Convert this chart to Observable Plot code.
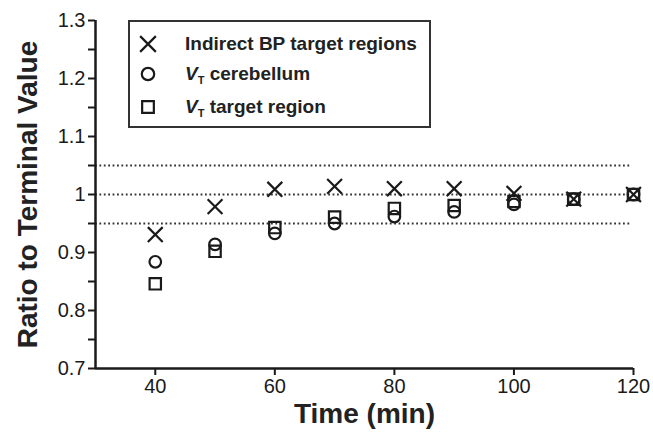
<!DOCTYPE html>
<html>
<head>
<meta charset="utf-8">
<script src="https://cdn.jsdelivr.net/npm/d3@7"></script>
<script src="https://cdn.jsdelivr.net/npm/@observablehq/plot@0.6"></script>
<style>
  body { margin: 0; background: #fff; }
  #wrap { position: relative; width: 653px; height: 436px; font-family: "Liberation Sans", Arial, sans-serif; }
  #wrap svg { font-family: "Liberation Sans", Arial, sans-serif; }
  #wrap svg [aria-label="y-axis label"] text,
  #wrap svg [aria-label="x-axis label"] text { font-size: 28px; font-weight: bold; fill: #222; }
  #legend { position: absolute; left: 128px; top: 20px; width: 299px; height: 104px; border: 2px solid #333; background: #fff; }
  .item { position: absolute; left: 0; height: 24px; display: flex; align-items: center; font-weight: bold; font-size: 19px; color: #222; }
  .item svg { position: absolute; left: 5px; }
  .item span { position: absolute; left: 55px; white-space: nowrap; }
  .item sub { font-size: 11px; vertical-align: -4px; }
</style>
</head>
<body>
<div id="wrap"></div>
<script>
const times = [40, 50, 60, 70, 80, 90, 100, 110, 120];
const bpIndirect = [0.931, 0.979, 1.009, 1.014, 1.010, 1.010, 1.002, 0.992, 1.000];
const vtCerebellum = [0.884, 0.914, 0.933, 0.950, 0.962, 0.970, 0.983, 0.992, 1.000];
const vtTarget = [0.846, 0.902, 0.943, 0.961, 0.976, 0.981, 0.988, 0.992, 1.000];
const refLines = [0.95, 1, 1.05];
const yMajor = [0.7, 0.8, 0.9, 1.0, 1.1, 1.2, 1.3];
const yMinor = [0.75, 0.85, 0.95, 1.05, 1.15, 1.25];
const xTicks = [40, 60, 80, 100, 120];

const ink = "#1a1a1a";
const rows = (vals) => times.map((t, i) => ({t, v: vals[i]}));

const chart = Plot.plot({
  width: 653,
  height: 436,
  marginLeft: 95,
  marginRight: 20,
  marginTop: 20,
  marginBottom: 68,
  x: {domain: [30, 120]},
  y: {domain: [0.7, 1.3]},
  marks: [
    Plot.ruleY(refLines, {x1: 30, x2: 119.4, stroke: "#333", strokeWidth: 1.8, strokeDasharray: "1.8,2.6"}),
    Plot.axisY(yMinor, {tickSize: 7, text: null, stroke: ink, strokeWidth: 2, label: null}),
    Plot.axisY(yMajor, {tickSize: 7, tickPadding: 3, fontSize: 20, fill: ink, stroke: ink, strokeWidth: 2,
      tickFormat: d => d === 1 ? "1" : d.toFixed(1),
      label: "Ratio to Terminal Value", labelAnchor: "center", labelArrow: "none", labelOffset: 78}),
    Plot.axisX(xTicks, {tickSize: 7, tickPadding: 3, fontSize: 20, fill: ink, stroke: ink, strokeWidth: 2,
      label: "Time (min)", labelAnchor: "center", labelArrow: "none", labelOffset: 54}),
    Plot.ruleX([30], {stroke: ink, strokeWidth: 2.5}),
    Plot.ruleY([0.7], {stroke: ink, strokeWidth: 2.5}),
    Plot.dot(rows(vtTarget), {x: "t", y: "v", symbol: "square", r: 6.4, stroke: ink, strokeWidth: 2.2, fill: "none"}),
    Plot.dot(rows(vtCerebellum), {x: "t", y: "v", symbol: "circle", r: 5.8, stroke: ink, strokeWidth: 2.2, fill: "none"}),
    Plot.dot(rows(bpIndirect), {x: "t", y: "v", symbol: "times", r: 6.8, stroke: ink, strokeWidth: 2.2, fill: "none"})
  ]
});
document.getElementById("wrap").appendChild(chart);

const legendItems = [
  {sym: "times", html: "Indirect BP target regions"},
  {sym: "circle", html: "<i>V</i><sub>T</sub> cerebellum"},
  {sym: "square", html: "<i>V</i><sub>T</sub> target region"}
];
const legendTops = [10, 40, 73];
const leg = document.createElement("div");
leg.id = "legend";
legendItems.forEach((it, i) => {
  const d = document.createElement("div");
  d.className = "item";
  d.style.top = legendTops[i] + "px";
  const s = d3.create("svg").attr("width", 26).attr("height", 24);
  const sz = {times: 7.2, circle: 6.2, square: 6.6}[it.sym];
  const type = {times: d3.symbolTimes, circle: d3.symbolCircle, square: d3.symbolSquare}[it.sym];
  s.append("path").attr("transform", "translate(13,12)")
    .attr("d", d3.symbol(type, Math.PI * sz * sz)())
    .attr("fill", "none").attr("stroke", ink).attr("stroke-width", 2.2);
  d.appendChild(s.node());
  const sp = document.createElement("span");
  sp.innerHTML = it.html;
  d.appendChild(sp);
  leg.appendChild(d);
});
document.getElementById("wrap").appendChild(leg);
</script>
</body>
</html>
